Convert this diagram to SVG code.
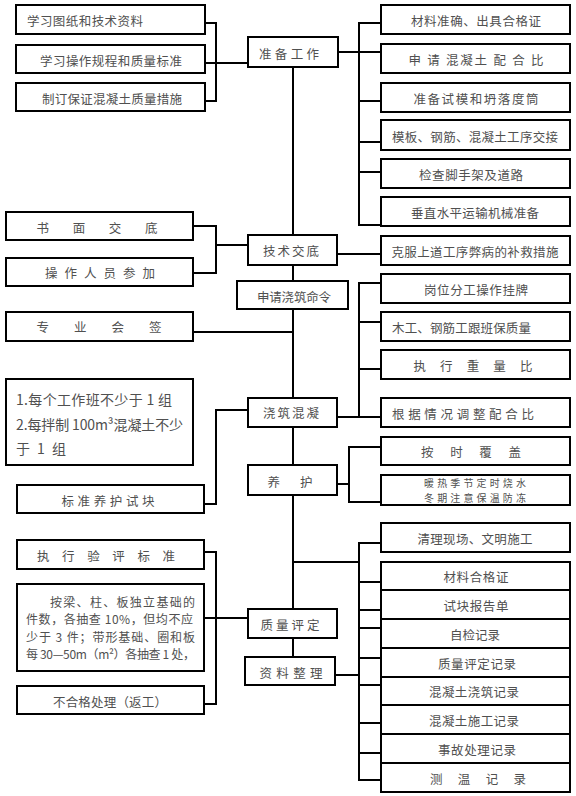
<svg xmlns="http://www.w3.org/2000/svg" width="576" height="796" viewBox="0 0 576 796">
<style>
rect{fill:#fff;stroke:#000;stroke-width:2}
text{font-family:"Noto Sans CJK SC","Liberation Serif",sans-serif;font-size:12.5px;fill:#505050;dominant-baseline:central}
.c{text-anchor:middle}
.big{font-size:14px}
.p{font-size:12px}
.s{font-size:10px}
#conn path{fill:none;stroke:#000;stroke-width:2}
</style>
<rect x="0" y="0" width="576" height="796" style="stroke:none"/>
<g id="conn">
<path d="M205,23H216V101H205M205,63H248"/>
<path d="M338,52H381M381,23H359V225H381M359,101H381M359,142H381M359,172H381"/>
<path d="M293,67V235M293,265V281M293,309V398M293,427V465M293,495V609M293,638V657"/>
<path d="M193,226H216V273H193M216,245H248"/>
<path d="M337,254H381"/>
<path d="M193,332H293"/>
<path d="M381,283H359V417M359,322H381M359,369H381M337,417H381"/>
<path d="M248,410H216V504H204"/>
<path d="M337,484H349M381,447H349V502H381"/>
<path d="M204,552H216V704H204M204,618H248"/>
<path d="M293,562H359M381,543H359V780H381M359,582H381M359,610H381M359,628H381M359,658H381M335,675H359M359,685H381M359,723H381M359,753H381"/>
</g>
<g id="L1"><rect x="16" y="5" width="189" height="29"/><text x="27" y="20" textLength="116">学习图纸和技术资料</text></g>
<g id="L2"><rect x="16" y="45" width="189" height="28"/><text class="c" x="111" y="60" textLength="142">学习操作规程和质量标准</text></g>
<g id="L3"><rect x="16" y="83" width="189" height="28"/><text class="c" x="112" y="98" textLength="140">制订保证混凝土质量措施</text></g>
<g id="zbgz"><rect x="248" y="37" width="90" height="30"/><text class="c" x="289" y="53" textLength="60">准 备 工 作</text></g>
<g id="R1"><rect x="381" y="5" width="189" height="29"/><text class="c" x="476" y="20" textLength="130">材料准确、出具合格证</text></g>
<g id="R2"><rect x="381" y="44" width="189" height="29"/><text class="c" x="476" y="59" textLength="135">申 请 混凝土 配 合 比</text></g>
<g id="R3"><rect x="381" y="83" width="189" height="29"/><text class="c" x="476" y="98" textLength="125">准备试模和坍落度筒</text></g>
<g id="R4"><rect x="381" y="120" width="189" height="30"/><text class="c" x="475" y="136" textLength="166">模板、钢筋、混凝土工序交接</text></g>
<g id="R5"><rect x="381" y="159" width="189" height="29"/><text class="c" x="471" y="174" textLength="104">检查脚手架及道路</text></g>
<g id="R6"><rect x="381" y="197" width="189" height="29"/><text class="c" x="475" y="212" textLength="128">垂直水平运输机械准备</text></g>
<g id="R7"><rect x="381" y="236" width="189" height="29"/><text class="c" x="475" y="251" textLength="167">克服上道工序弊病的补救措施</text></g>
<g id="R8"><rect x="381" y="274" width="189" height="29"/><text class="c" x="476" y="289" textLength="104">岗位分工操作挂牌</text></g>
<g id="R9"><rect x="381" y="312" width="189" height="29"/><text x="392" y="327" textLength="139">木工、钢筋工跟班保质量</text></g>
<g id="R10"><rect x="381" y="350" width="189" height="29"/><text class="c" x="473" y="365" textLength="119">执 行 重 量 比</text></g>
<g id="R11"><rect x="381" y="398" width="189" height="29"/><text class="c" x="463" y="413" textLength="142">根 据 情 况 调 整 配 合 比</text></g>
<g id="R12"><rect x="381" y="437" width="189" height="28"/><text class="c" x="471" y="451" textLength="100">按 时 覆 盖</text></g>
<g id="R13"><rect x="381" y="475" width="189" height="30"/><text class="c s" x="475" y="482.5" textLength="102">暖热季节定时烧水</text><text class="c s" x="475" y="497.5" textLength="102">冬期注意保温防冻</text></g>
<g id="R14"><rect x="381" y="523" width="189" height="29"/><text class="c" x="475" y="538" textLength="115">清理现场、文明施工</text></g>
<g id="rec1"><rect x="381" y="562" width="189" height="28"/><text class="c" x="476" y="576" textLength="65">材料合格证</text></g>
<g id="rec2"><rect x="381" y="590" width="189" height="29"/><text class="c" x="476" y="605" textLength="65">试块报告单</text></g>
<g id="rec3"><rect x="381" y="619" width="189" height="29"/><text class="c" x="475" y="634" textLength="50">自检记录</text></g>
<g id="rec4"><rect x="381" y="648" width="189" height="29"/><text class="c" x="477" y="663" textLength="78">质量评定记录</text></g>
<g id="rec5"><rect x="381" y="677" width="189" height="28"/><text class="c" x="474" y="691" textLength="90">混凝土浇筑记录</text></g>
<g id="rec6"><rect x="381" y="705" width="189" height="29"/><text class="c" x="474" y="720" textLength="90">混凝土施工记录</text></g>
<g id="rec7"><rect x="381" y="734" width="189" height="29"/><text class="c" x="477" y="749" textLength="78">事故处理记录</text></g>
<g id="rec8"><rect x="381" y="763" width="189" height="29"/><text class="c" x="478" y="778" textLength="96">测 温 记 录</text></g>
<g id="smjd"><rect x="6" y="212" width="187" height="28"/><text class="c" x="97" y="227" textLength="121">书 面 交 底</text></g>
<g id="czry"><rect x="6" y="258" width="187" height="28"/><text class="c" x="100" y="272" textLength="110">操 作 人 员 参 加</text></g>
<g id="jsjd"><rect x="248" y="235" width="89" height="30"/><text class="c" x="291" y="250" textLength="56">技 术 交 底</text></g>
<g id="sqjz"><rect x="237" y="281" width="111" height="28"/><text class="c" x="294" y="296" textLength="74">申请浇筑命令</text></g>
<g id="zyhq"><rect x="6" y="312" width="187" height="29"/><text class="c" x="99" y="326" textLength="125">专 业 会 签</text></g>
<g id="note"><rect x="6" y="379" width="187" height="86"/><text class="big" x="16" y="399" textLength="156">1.每个工作班不少于 1 组</text><text class="big" x="16" y="424" textLength="167">2.每拌制 100m³混凝土不少</text><text class="big" x="16" y="448" textLength="50">于 1 组</text></g>
<g id="bzyh"><rect x="17" y="485" width="187" height="28"/><text class="c" x="108" y="500" textLength="93">标 准 养 护 试 块</text></g>
<g id="jzhn"><rect x="248" y="398" width="89" height="29"/><text class="c" x="291" y="412" textLength="56">浇 筑 混 凝</text></g>
<g id="yh"><rect x="248" y="465" width="89" height="30"/><text class="c" x="290" y="481" textLength="45">养 护</text></g>
<g id="zxyp"><rect x="17" y="540" width="187" height="29"/><text class="c" x="106" y="555" textLength="138">执 行 验 评 标 准</text></g>
<g id="para"><rect x="17" y="584" width="187" height="87"/><text class="p" x="50" y="601" textLength="145">按梁、柱、板独立基础的</text><text class="p" x="26" y="618" textLength="167">件数，各抽查 10%，但均不应</text><text class="p" x="26" y="636" textLength="169">少于 3 件；带形基础、圈和板</text><text class="p" x="26" y="653" textLength="169">每 30—50m（m²）各抽查 1 处，</text></g>
<g id="bhg"><rect x="17" y="686" width="187" height="28"/><text class="c" x="110" y="701" textLength="114">不合格处理（返工）</text></g>
<g id="zlpd"><rect x="248" y="609" width="89" height="29"/><text class="c" x="290" y="624" textLength="59">质 量 评 定</text></g>
<g id="zlzl"><rect x="245" y="657" width="90" height="28"/><text class="c" x="291" y="672" textLength="63">资 料 整 理</text></g>
</svg>
